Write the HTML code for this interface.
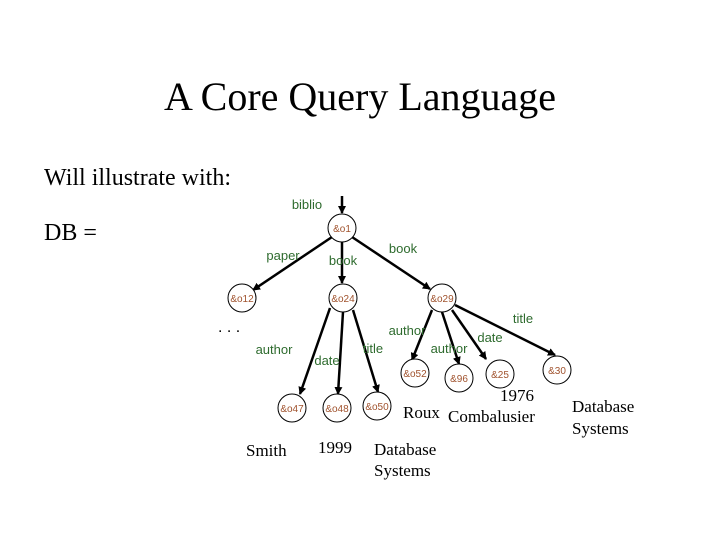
<!DOCTYPE html>
<html><head><meta charset="utf-8"><style>
body{margin:0;background:#fff}
svg{display:block}
.g{font-family:"Liberation Sans",sans-serif;font-size:13px;fill:#2e6b2e}
.n{font-family:"Liberation Sans",sans-serif;font-size:10px;fill:#a0522d}
.s{font-family:"Liberation Serif",serif;font-size:17px;fill:#000}
</style></head><body>
<svg width="720" height="540" viewBox="0 0 720 540">
<defs><marker id="a" markerWidth="8" markerHeight="8" refX="7" refY="4" orient="auto" markerUnits="userSpaceOnUse"><path d="M0,0 L8,4 L0,8z" fill="#000"/></marker></defs>
<text x="360" y="110" text-anchor="middle" font-family="Liberation Serif,serif" font-size="40">A Core Query Language</text>
<text x="44" y="185" font-family="Liberation Serif,serif" font-size="24">Will illustrate with:</text>
<text x="44" y="240" font-family="Liberation Serif,serif" font-size="24">DB =</text>
<g stroke="#000" stroke-width="2.5" marker-end="url(#a)">
<line x1="342" y1="196" x2="342" y2="213"/>
<line x1="332" y1="237" x2="253" y2="290"/>
<line x1="342" y1="242" x2="342" y2="283"/>
<line x1="352" y1="237" x2="430" y2="289"/>
<line x1="330" y1="308" x2="300" y2="394"/>
<line x1="343" y1="312" x2="338" y2="394"/>
<line x1="353" y1="310" x2="378" y2="392"/>
<line x1="432" y1="310" x2="412" y2="360"/>
<line x1="442" y1="312" x2="459" y2="364"/>
<line x1="452" y1="310" x2="486" y2="359"/>
<line x1="455" y1="305" x2="555" y2="355"/>
</g>
<g fill="#fff" stroke="#000" stroke-width="1">
<circle cx="342" cy="228" r="14"/><circle cx="242" cy="298" r="14"/><circle cx="343" cy="298" r="14"/><circle cx="442" cy="298" r="14"/>
<circle cx="415" cy="373" r="14"/><circle cx="459" cy="378" r="14"/><circle cx="500" cy="374" r="14"/><circle cx="557" cy="370" r="14"/>
<circle cx="292" cy="408" r="14"/><circle cx="337" cy="408" r="14"/><circle cx="377" cy="406" r="14"/>
</g>
<g class="n" text-anchor="middle">
<text x="342" y="232">&amp;o1</text><text x="242" y="302">&amp;o12</text><text x="343" y="302">&amp;o24</text><text x="442" y="302">&amp;o29</text>
<text x="415" y="377">&amp;o52</text><text x="459" y="382">&amp;96</text><text x="500" y="378">&amp;25</text><text x="557" y="374">&amp;30</text>
<text x="292" y="412">&amp;o47</text><text x="337" y="412">&amp;o48</text><text x="377" y="410">&amp;o50</text>
</g>
<g class="g" text-anchor="middle">
<text x="307" y="209">biblio</text><text x="283" y="260">paper</text><text x="343" y="265">book</text><text x="403" y="253">book</text>
<text x="274" y="354">author</text><text x="327" y="365">date</text><text x="373" y="353">title</text>
<text x="407" y="335">author</text><text x="449" y="353">author</text><text x="490" y="342">date</text><text x="523" y="323">title</text>
</g>
<text x="218" y="332" font-family="Liberation Sans,sans-serif" font-size="16">. . .</text>
<g class="s">
<text x="246" y="456">Smith</text><text x="318" y="453">1999</text>
<text x="374" y="455">Database</text><text x="374" y="476">Systems</text>
<text x="403" y="418">Roux</text><text x="448" y="422">Combalusier</text><text x="500" y="401">1976</text>
<text x="572" y="412">Database</text><text x="572" y="434">Systems</text>
</g>
</svg>
</body></html>
